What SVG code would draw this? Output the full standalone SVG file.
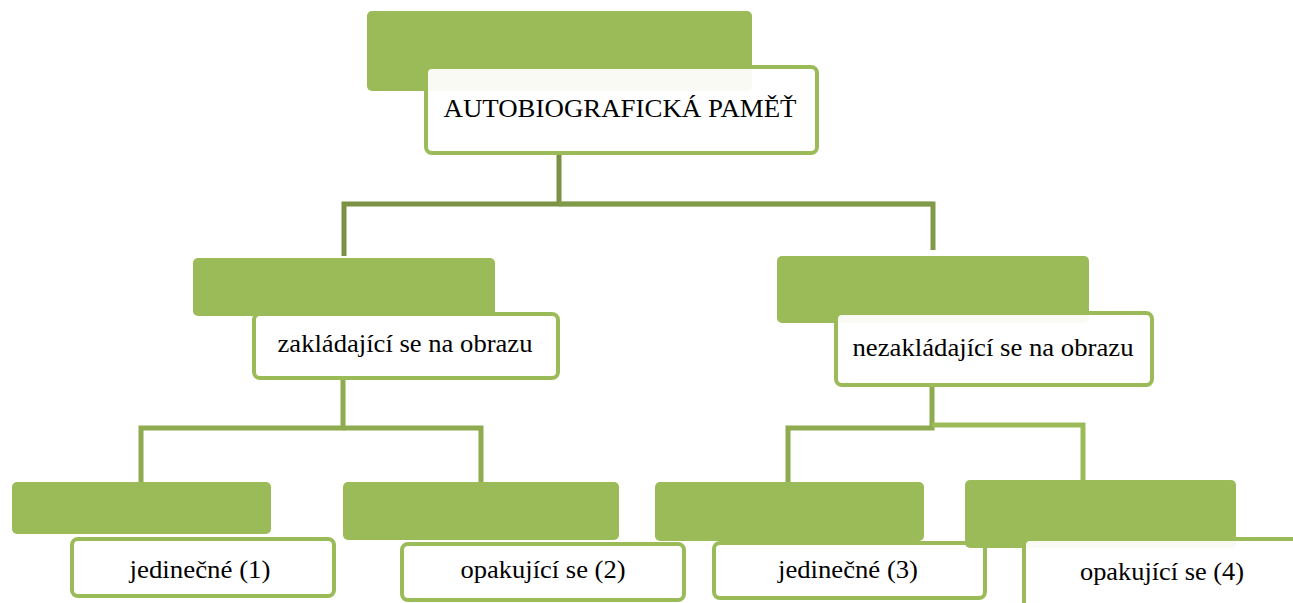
<svg xmlns="http://www.w3.org/2000/svg" width="1293" height="603" viewBox="0 0 1293 603">
<style>
.g{fill:#9bbb59}
.w{fill:#ffffff;fill-opacity:0.93;stroke:#9bbb59;stroke-width:4}
.t{font-family:"Liberation Serif","Times New Roman",serif;font-size:25px;fill:#000;text-anchor:middle}
.c{fill:none;stroke-width:5;stroke-linejoin:miter}
</style>
<rect width="1293" height="603" fill="#ffffff"/>
<g id="connectors">
<path class="c" stroke="#7b9245" d="M559 153 V204 H344 V256"/>
<path class="c" stroke="#bac89a" stroke-width="7" d="M561 204 H933"/>
<path class="c" stroke="#809a48" d="M559 204 H933 V250"/>
<path class="c" stroke="#8eab50" d="M343 378 V428 H141 V482"/>
<path class="c" stroke="#8eab50" d="M343 428 H481 V482"/>
<path class="c" stroke="#8eab50" d="M932 385 V428 H788 V482"/>
<path class="c" stroke="#9bbb59" d="M932 425 H1083 V480"/>
</g>
<g id="node-root">
<rect class="g" x="367" y="11" width="385" height="80" rx="5"/>
<rect class="w" x="426" y="67" width="391" height="86" rx="6"/>
<text class="t" x="620" y="117" textLength="353" lengthAdjust="spacingAndGlyphs">AUTOBIOGRAFICKÁ PAMĚŤ</text>
</g>
<g id="node-image">
<rect class="g" x="193" y="258" width="302" height="58" rx="5"/>
<rect class="w" x="254" y="314" width="304" height="64" rx="6"/>
<text class="t" x="405" y="352" textLength="255" lengthAdjust="spacingAndGlyphs">zakládající se na obrazu</text>
</g>
<g id="node-nonimage">
<rect class="g" x="777" y="256" width="312" height="67" rx="5"/>
<rect class="w" x="836" y="313" width="316" height="72" rx="6"/>
<text class="t" x="993" y="356" textLength="281" lengthAdjust="spacingAndGlyphs">nezakládající se na obrazu</text>
</g>
<g id="node-1">
<rect class="g" x="12" y="482" width="259" height="52" rx="5"/>
<rect class="w" x="72" y="539" width="262" height="57" rx="6"/>
<text class="t" x="200" y="578" textLength="141" lengthAdjust="spacingAndGlyphs">jedinečné (1)</text>
</g>
<g id="node-2">
<rect class="g" x="343" y="482" width="276" height="58" rx="5"/>
<rect class="w" x="402" y="544" width="282" height="56" rx="6"/>
<text class="t" x="543" y="578" textLength="165" lengthAdjust="spacingAndGlyphs">opakující se (2)</text>
</g>
<g id="node-3">
<rect class="g" x="655" y="482" width="269" height="59" rx="5"/>
<rect class="w" x="714" y="543" width="271" height="55" rx="6"/>
<text class="t" x="848" y="578" textLength="140" lengthAdjust="spacingAndGlyphs">jedinečné (3)</text>
</g>
<g id="node-4">
<rect class="g" x="965" y="480" width="271" height="68" rx="5"/>
<rect class="w" x="1024" y="539" width="280" height="70" rx="6"/>
<text class="t" x="1162" y="580" textLength="164" lengthAdjust="spacingAndGlyphs">opakující se (4)</text>
</g>
</svg>
